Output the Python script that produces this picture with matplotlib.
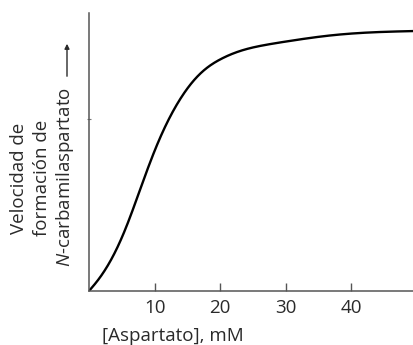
import matplotlib
matplotlib.use("Agg")
import matplotlib.pyplot as plt
import numpy as np

# lectura aproximada de la curva sigmoidea (velocidad en unidades arbitrarias, 0-100)
aspartato = [0, 1.2, 2.4, 4.0, 5.5, 7.0, 8.5, 10.0, 12.0, 14.0, 16.0, 18.0, 20.0, 23.4, 27.1, 30.2, 36.7, 42.8, 49.4]
velocidad = [0, 3.4, 7.4, 14.1, 22.0, 31.3, 41.1, 50.4, 61.0, 69.4, 75.8, 80.3, 83.3, 86.6, 88.6, 89.8, 91.9, 93.0, 93.5]
xticks = [10, 20, 30, 40]
xticklabels = ["10", "20", "30", "40"]


def spline(x, y, xs):
    """Spline cubico natural para trazar una curva suave por los puntos."""
    x = np.asarray(x, float)
    y = np.asarray(y, float)
    n = len(x)
    h = np.diff(x)
    A = np.zeros((n, n))
    b = np.zeros(n)
    A[0, 0] = A[-1, -1] = 1
    for i in range(1, n - 1):
        A[i, i - 1] = h[i - 1]
        A[i, i] = 2 * (h[i - 1] + h[i])
        A[i, i + 1] = h[i]
        b[i] = 6 * ((y[i + 1] - y[i]) / h[i] - (y[i] - y[i - 1]) / h[i - 1])
    M = np.linalg.solve(A, b)
    idx = np.clip(np.searchsorted(x, xs) - 1, 0, n - 2)
    x0, x1 = x[idx], x[idx + 1]
    hh = h[idx]
    return (M[idx] * (x1 - xs) ** 3 / (6 * hh) + M[idx + 1] * (xs - x0) ** 3 / (6 * hh)
            + (y[idx] / hh - M[idx] * hh / 6) * (x1 - xs)
            + (y[idx + 1] / hh - M[idx + 1] * hh / 6) * (xs - x0))


plt.rcParams["font.family"] = ["Open Sans", "DejaVu Sans"]
plt.rcParams["mathtext.fontset"] = "custom"
plt.rcParams["mathtext.it"] = "Open Sans:italic"
plt.rcParams["mathtext.rm"] = "Open Sans"

txt = "#2a2a2a"
fs = 13.5

fig = plt.figure(figsize=(4.13, 3.45), dpi=100)
ax = fig.add_axes([89 / 413, 54 / 345, 324 / 413, 278 / 345])

xs = np.linspace(0, 49.4, 500)
ax.plot(xs, spline(aspartato, velocidad, xs), color="black", lw=1.7,
        solid_capstyle="round")

ax.set_xlim(0, 49.4)
ax.set_ylim(0, 100)
for s in ["top", "right"]:
    ax.spines[s].set_visible(False)
for s in ["left", "bottom"]:
    ax.spines[s].set_color("#555555")
    ax.spines[s].set_linewidth(1.1)

ax.set_xticks(xticks)
ax.set_xticklabels(xticklabels, fontsize=fs, color=txt)
ax.tick_params(axis="x", direction="in", length=6, width=1, color="#555555", pad=6)
ax.set_yticks([62])
ax.set_yticklabels([])
ax.tick_params(axis="y", direction="inout", length=3, width=0.8, color="#777777")

# titulo del eje x, desplazado a la izquierda como en el original
fig.text(173 / 413, 1 - 336 / 345, "[Aspartato], mM", ha="center", va="center",
         fontsize=fs, color=txt)

# etiqueta del eje y en tres lineas
fig.text(19 / 413, 1 - 178 / 345, "Velocidad de", rotation=90, ha="center", va="center",
         fontsize=fs, color=txt)
fig.text(42 / 413, 1 - 178 / 345, "formación de", rotation=90, ha="center", va="center",
         fontsize=fs, color=txt)
fig.text(65 / 413, 1 - 177 / 345, r"$\mathit{N}$-carbamilaspartato", rotation=90,
         ha="center", va="center", fontsize=fs, color=txt)
ax.annotate("", xy=(67 / 413, 1 - 41 / 345), xytext=(67 / 413, 1 - 79 / 345),
            xycoords="figure fraction", textcoords="figure fraction",
            arrowprops=dict(arrowstyle="-|>", color=txt, lw=1.0,
                            mutation_scale=7))

fig.savefig("out.png", dpi=100)
